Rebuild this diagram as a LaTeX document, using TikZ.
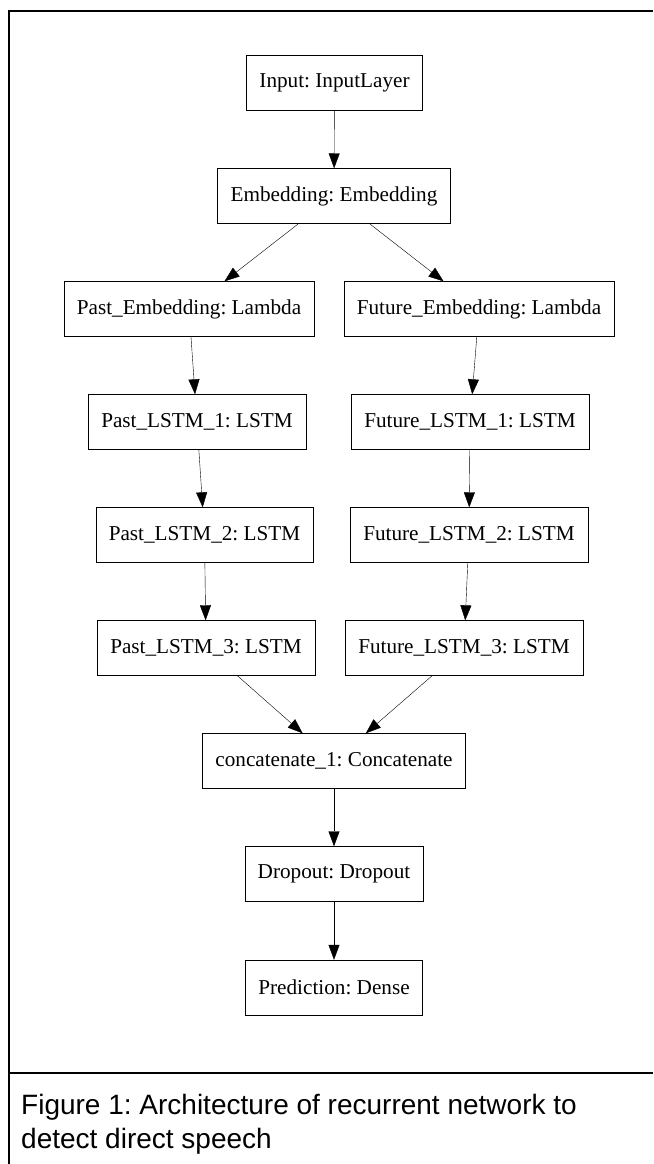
\documentclass[tikz,border=0pt]{standalone}
\usepackage{fontspec}
\setmainfont{Liberation Serif}
\newfontfamily\capfont{Liberation Sans}
\usetikzlibrary{arrows.meta}
\tikzset{
	->, % makes the edges directed
	>={Triangle[length=15pt, width=11pt]}, % filled heads as in graphviz
	line width=1.4pt,
	layer/.style={draw, rectangle, minimum height=55pt, inner xsep=13pt, font=\fontsize{21.2}{25}\selectfont}, % one box per keras layer
	capline/.style={anchor=base west, inner sep=0pt, font=\capfont\fontsize{28}{34}\selectfont}, % caption text
}
\frenchspacing
\begin{document}
\begin{tikzpicture}[x=1pt, y=-1pt]
			\useasboundingbox (0,0) rectangle (653,1164);
			\draw[-, line width=2pt] (653,11) -| (9,1164);
			\draw[-, line width=2.2pt] (9,1073) -- (653,1073);

			\node[layer] (inp) at (334.5,83) {Input: InputLayer};
			\node[layer] (emb) at (334,196) {Embedding: Embedding};
			\node[layer] (pemb) at (189,309) {Past\_Embedding: Lambda};
			\node[layer] (femb) at (479,309) {Future\_Embedding: Lambda};
			\node[layer] (pl1) at (197,422) {Past\_LSTM\_1: LSTM};
			\node[layer] (fl1) at (470,422) {Future\_LSTM\_1: LSTM};
			\node[layer] (pl2) at (204.5,535) {Past\_LSTM\_2: LSTM};
			\node[layer] (fl2) at (469,535) {Future\_LSTM\_2: LSTM};
			\node[layer] (pl3) at (206,648) {Past\_LSTM\_3: LSTM};
			\node[layer] (fl3) at (464,648) {Future\_LSTM\_3: LSTM};
			\node[layer] (cat) at (334,761) {concatenate\_1: Concatenate};
			\node[layer] (drop) at (334,874) {Dropout: Dropout};
			\node[layer] (pred) at (334,987.5) {Prediction: Dense};

			\draw (inp) edge (emb)
				  (emb) edge (pemb)
				  (emb) edge (femb)
				  (pemb) edge (pl1)
				  (femb) edge (fl1)
				  (pl1) edge (pl2)
				  (fl1) edge (fl2)
				  (pl2) edge (pl3)
				  (fl2) edge (fl3)
				  (pl3) edge (cat)
				  (fl3) edge (cat)
				  (cat) edge (drop)
				  (drop) edge (pred);

			\node[capline] (cap1) at (21,1114) {Figure 1: Architecture of recurrent network to};
			\node[capline] (cap2) at (21,1148) {detect direct speech};

		\end{tikzpicture}
\end{document}
